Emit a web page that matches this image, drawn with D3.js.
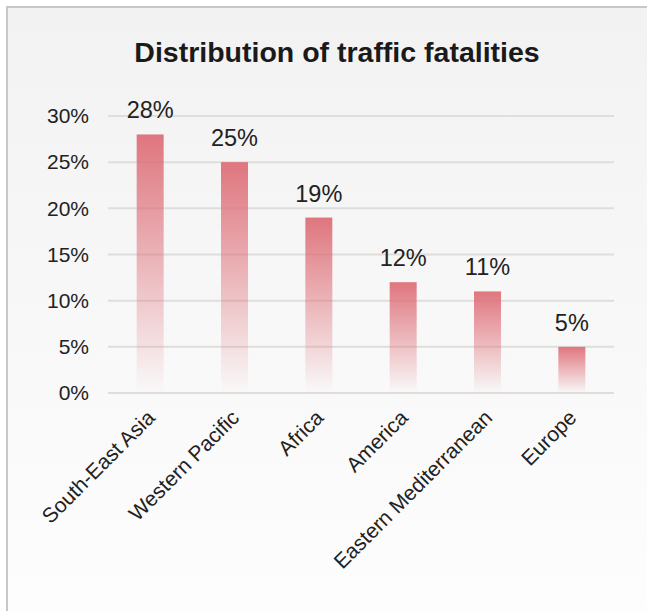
<!DOCTYPE html>
<html><head><meta charset="utf-8">
<script src="https://cdn.jsdelivr.net/npm/d3@7"></script>
<style>html,body{margin:0;padding:0;background:#fff;}</style>
</head><body>
<svg id="c" width="647" height="611"></svg>
<script>
const categories = ["South-East Asia","Western Pacific","Africa","America","Eastern Mediterranean","Europe"];
const values = [28, 25, 19, 12, 11, 5];
const yTicks = [0, 5, 10, 15, 20, 25, 30];
const title = "Distribution of traffic fatalities";

const FONT = "'Liberation Sans', Arial, sans-serif";
const svg = d3.select("#c");
const defs = svg.append("defs");
const bg = defs.append("linearGradient").attr("id","bg").attr("x1",0).attr("y1",0).attr("x2",0).attr("y2",1);
bg.append("stop").attr("offset","0%").attr("stop-color","#f2f2f2");
bg.append("stop").attr("offset","100%").attr("stop-color","#ffffff");
const bg2 = defs.append("linearGradient").attr("id","bar").attr("x1",0).attr("y1",0).attr("x2",0).attr("y2",1);
bg2.append("stop").attr("offset","0%").attr("stop-color","#de6f78").attr("stop-opacity",0.95);
bg2.append("stop").attr("offset","100%").attr("stop-color","#de6f78").attr("stop-opacity",0.0);

svg.append("rect").attr("x",7).attr("y",7).attr("width",700).attr("height",700)
  .attr("fill","url(#bg)").attr("stroke","#c8c8c8").attr("stroke-width",2);

const x = d3.scaleBand().domain(categories).range([108, 614]).paddingInner(0.68).paddingOuter(0.34);
const y = d3.scaleLinear().domain([0, 30]).range([393, 116]);

svg.append("text").attr("x",337).attr("y",62).attr("text-anchor","middle")
  .attr("font-family",FONT).attr("font-weight","bold")
  .attr("font-size",28.5).attr("fill","#1a1a1a").text(title);

const grid = svg.append("g");
grid.selectAll("line").data(yTicks).join("line")
  .attr("x1",108).attr("x2",614).attr("y1",d=>y(d)).attr("y2",d=>y(d))
  .attr("stroke","#dfdeda").attr("stroke-width",2);

const yAxis = d3.axisLeft(y).tickValues(yTicks).tickFormat(d=>d+"%").tickSize(0).tickPadding(19);
const ya = svg.append("g").attr("transform","translate(108,0)").call(yAxis);
ya.select(".domain").remove();
ya.selectAll("text").attr("font-family",FONT).attr("font-size",21).attr("fill","#222");

svg.append("g").selectAll("rect").data(values).join("rect")
  .attr("x",(d,i)=>x(categories[i])).attr("width",x.bandwidth())
  .attr("y",d=>y(d)).attr("height",d=>y(0)-y(d)).attr("fill","url(#bar)");

svg.append("g").selectAll("text").data(values).join("text")
  .attr("x",(d,i)=>x(categories[i])+x.bandwidth()/2).attr("y",d=>y(d)-16)
  .attr("text-anchor","middle").attr("font-family",FONT)
  .attr("font-size",23.5).attr("fill","#222").text(d=>d+"%");

const xAxis = d3.axisBottom(x).tickSize(0).tickPadding(0);
const xa = svg.append("g").attr("transform","translate(0,393)").call(xAxis);
xa.select(".domain").remove();
xa.selectAll(".tick text")
  .attr("font-family",FONT).attr("font-size",21).attr("fill","#222")
  .attr("text-anchor","end").attr("dy",0).attr("y",0)
  .attr("transform","translate(6,26) rotate(-45)");
</script>
</body></html>
